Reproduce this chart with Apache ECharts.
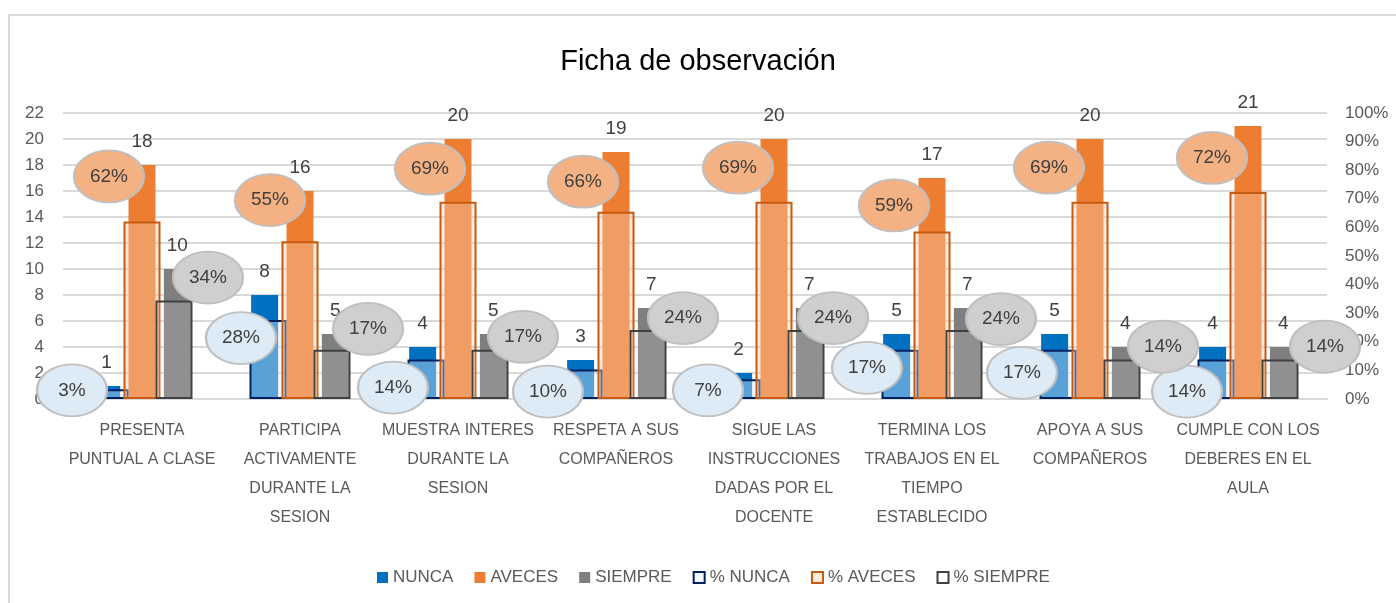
<!DOCTYPE html>
<html>
<head>
<meta charset="utf-8">
<script src="https://cdn.jsdelivr.net/npm/echarts@6/dist/echarts.min.js"></script>
<style>
  html, body { margin: 0; padding: 0; background: #fff; }
  #chart { width: 1396px; height: 603px; }
</style>
</head>
<body>
<div id="chart"></div>
<script>
  const categories = [
    'PRESENTA PUNTUAL A CLASE',
    'PARTICIPA ACTIVAMENTE DURANTE LA SESION',
    'MUESTRA INTERES DURANTE LA SESION',
    'RESPETA A SUS COMPAÑEROS',
    'SIGUE LAS INSTRUCCIONES DADAS POR EL DOCENTE',
    'TERMINA LOS TRABAJOS EN EL TIEMPO ESTABLECIDO',
    'APOYA A SUS COMPAÑEROS',
    'CUMPLE CON LOS DEBERES EN EL AULA'
  ]
  const tickLabels = [
    'PRESENTA\nPUNTUAL A CLASE',
    'PARTICIPA\nACTIVAMENTE\nDURANTE LA\nSESION',
    'MUESTRA INTERES\nDURANTE LA\nSESION',
    'RESPETA A SUS\nCOMPAÑEROS',
    'SIGUE LAS\nINSTRUCCIONES\nDADAS POR EL\nDOCENTE',
    'TERMINA LOS\nTRABAJOS EN EL\nTIEMPO\nESTABLECIDO',
    'APOYA A SUS\nCOMPAÑEROS',
    'CUMPLE CON LOS\nDEBERES EN EL\nAULA'
  ]
  const nunca = [1, 8, 4, 3, 2, 5, 5, 4]
  const aveces = [18, 16, 20, 19, 20, 17, 20, 21]
  const siempre = [10, 5, 5, 7, 7, 7, 4, 4]
  const pctNunca = [3.4, 27.6, 13.8, 10.3, 6.9, 17.2, 17.2, 13.8]
  const pctAveces = [62.1, 55.2, 69.0, 65.5, 69.0, 58.6, 69.0, 72.4]
  const pctSiempre = [34.4, 17.2, 17.2, 24.1, 24.1, 24.1, 13.8, 13.8]

  // desplazamiento de cada elipse respecto a la parte alta de su barra (px)
  const shiftNunca = [[-38, 1], [-27, 18], [-33, 28], [-36, 22], [-34, 11], [-33, 18], [-36, 23], [-29, 32]]
  const shiftAveces = [[-33, -45], [-30, -41], [-28, -33], [-33, -30], [-36, -34], [-38, -26], [-41, -34], [-36, -34]]
  const shiftSiempre = [[34, -23], [36, -21], [33, -13], [35, -12], [27, -12], [37, -11], [41, -13], [45, -13]]

  const font = "'Liberation Sans', Arial, sans-serif"

  // barras de cantidades (eje izquierdo)
  const countBar = (name, data, color) => ({
    name,
    type: 'bar',
    xAxisIndex: 0,
    yAxisIndex: 0,
    data,
    barWidth: 27,
    barGap: '31%',
    itemStyle: { color },
    label: {
      show: true,
      position: 'top',
      distance: 14,
      color: '#404040',
      fontFamily: font,
      fontSize: 19,
    },
  })

  // barras de porcentaje (eje derecho), encima y mas anchas
  const pctBar = (name, data, fill, border) => ({
    name,
    type: 'bar',
    xAxisIndex: 1,
    yAxisIndex: 1,
    data,
    barWidth: 37,
    barGap: '-13.5%',
    itemStyle: { color: fill, borderColor: border, borderWidth: 2 },
  })

  // elipses con el porcentaje
  const bubble = (data, barShift, shifts, fill) => ({
    type: 'scatter',
    xAxisIndex: 1,
    yAxisIndex: 1,
    data: data.map((v, i) => ({
      value: v,
      symbolOffset: [barShift + shifts[i][0], shifts[i][1]],
    })),
    symbol: 'circle',
    symbolSize: [70, 52],
    silent: true,
    itemStyle: { color: fill, borderColor: '#bfbfbf', borderWidth: 2, opacity: 1 },
    label: {
      show: true,
      position: 'inside',
      color: '#404040',
      fontFamily: font,
      fontSize: 19,
      formatter: (p) => Math.round(p.value) + '%',
    },
    z: 5,
  })

  const options = {
    animation: false,
    title: {
      text: 'Ficha de observación',
      left: 'center',
      top: 42,
      textStyle: { color: '#000', fontFamily: font, fontSize: 29, fontWeight: 'normal' },
    },
    graphic: [
      {
        type: 'rect',
        shape: { x: 9, y: 15, width: 1420, height: 620 },
        style: { fill: 'none', stroke: '#d9d9d9', lineWidth: 2 },
      },
    ],
    legend: {
      data: ['NUNCA', 'AVECES', 'SIEMPRE', '% NUNCA', '% AVECES', '% SIEMPRE'],
      left: 372,
      top: 564,
      icon: 'rect',
      itemWidth: 11,
      itemHeight: 11,
      itemGap: 21,
      textStyle: { color: '#595959', fontFamily: font, fontSize: 17 },
    },
    grid: { left: 63, right: 69, top: 113, bottom: 204 },
    xAxis: [
      {
        type: 'category',
        data: categories,
        axisLine: { lineStyle: { color: '#d9d9d9', width: 2 } },
        axisTick: { show: false },
        axisLabel: {
          color: '#595959',
          fontFamily: font,
          fontSize: 16,
          lineHeight: 29,
          margin: 17,
          interval: 0,
          formatter: (v, i) => tickLabels[i],
        },
      },
      { type: 'category', data: categories, show: false },
    ],
    yAxis: [
      {
        type: 'value',
        min: 0,
        max: 22,
        interval: 2,
        axisLine: { show: false },
        axisTick: { show: false },
        axisLabel: { color: '#595959', fontFamily: font, fontSize: 17, margin: 19 },
        splitLine: { lineStyle: { color: '#d9d9d9', width: 2 } },
      },
      {
        type: 'value',
        min: 0,
        max: 100,
        interval: 10,
        position: 'right',
        axisLine: { show: false },
        axisTick: { show: false },
        axisLabel: { color: '#595959', fontFamily: font, fontSize: 17, margin: 18, formatter: '{value}%' },
        splitLine: { show: false },
      },
    ],
    series: [
      countBar('NUNCA', nunca, '#0070c0'),
      countBar('AVECES', aveces, '#ed7d31'),
      countBar('SIEMPRE', siempre, '#7f7f7f'),
      pctBar('% NUNCA', pctNunca, 'rgba(222,235,247,0.4)', '#002060'),
      pctBar('% AVECES', pctAveces, 'rgba(248,203,173,0.4)', '#c55a11'),
      pctBar('% SIEMPRE', pctSiempre, 'rgba(242,242,242,0.15)', '#404040'),
      bubble(pctNunca, -32, shiftNunca, '#ddebf7'),
      bubble(pctAveces, 0, shiftAveces, '#f4b183'),
      bubble(pctSiempre, 32, shiftSiempre, '#d0cece'),
    ],
  }

  const chart = echarts.init(document.getElementById('chart'))
  chart.setOption(options)
  window.addEventListener('resize', function () {
    chart && chart.resize()
  })
</script>
</body>
</html>
